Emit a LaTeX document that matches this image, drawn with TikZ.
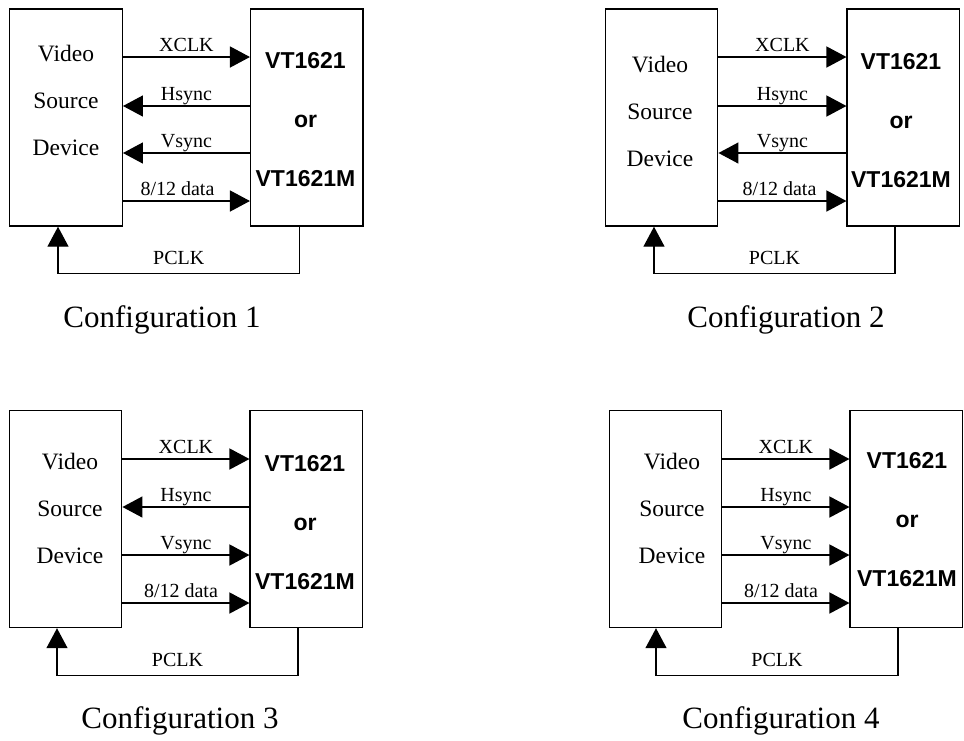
\documentclass[tikz,border=0pt]{standalone}
\usepackage{fontspec}
\setmainfont{Liberation Serif}
\setsansfont{Liberation Sans}
\usepackage{tikz}
\usetikzlibrary{arrows.meta,positioning}
\tikzstyle{block} = [rectangle, draw=black, line width=1.4pt, minimum width=112.5pt, minimum height=217pt, inner sep=0pt]
\tikzstyle{srctext} = [align=center, font=\fontsize{23.5}{47}\selectfont]
\tikzstyle{chiptext} = [align=center, font=\fontsize{23}{59}\selectfont\sffamily\bfseries]
\tikzstyle{sig} = [midway, anchor=base, yshift=5.8pt, inner sep=0pt, font=\fontsize{20}{24}\selectfont]
\tikzstyle{cfgtitle} = [anchor=base, inner sep=0pt, font=\fontsize{31}{36}\selectfont]
\tikzstyle{arrow} = [line width=1.4pt, -{Triangle[length=20pt,width=21pt]}]

\begin{document}
\begin{tikzpicture}[x=1pt,y=-1pt]
\useasboundingbox (0,0) rectangle (964,740);
% Configuration 1
\node (src1) [block] at (66,117.5) {};
\node (chip1) [block, right=127pt of src1] {};
\node (srctxt1) [srctext] at (66,100) {Video\\Source\\Device};
\node (chiptxt1) [chiptext] at (305.5,120) {VT1621\\or\\VT1621M};
\draw [arrow] ([yshift=60.5pt]src1.east) -- node (xclk1) [sig] {XCLK} ([yshift=60.5pt]chip1.west);
\draw [arrow] ([yshift=11.5pt]chip1.west) -- node (hsync1) [sig] {Hsync} ([yshift=11.5pt]src1.east);
\draw [arrow] ([yshift=-35.5pt]chip1.west) -- node (vsync1) [sig] {Vsync} ([yshift=-35.5pt]src1.east);
\draw [arrow] ([yshift=-83.5pt]src1.east) -- node (data1) [sig, xshift=-9pt] {8/12 data} ([yshift=-83.5pt]chip1.west);
\draw [arrow] ([xshift=-7.5pt]chip1.south) -- ++(0,47) -| node (pclk1) [sig, pos=0.25, yshift=3.2pt] {PCLK} ([xshift=-8pt]src1.south);
\node (cfg1) [cfgtitle] at (162,327) {Configuration 1};

% Configuration 2
\node (src2) [block] at (661.5,117.5) {};
\node (chip2) [block, right=128pt of src2] {};
\node (srctxt2) [srctext] at (660,111) {Video\\Source\\Device};
\node (chiptxt2) [chiptext] at (901,121) {VT1621\\or\\VT1621M};
\draw [arrow] ([yshift=60.5pt]src2.east) -- node (xclk2) [sig] {XCLK} ([yshift=60.5pt]chip2.west);
\draw [arrow] ([yshift=11.5pt]src2.east) -- node (hsync2) [sig] {Hsync} ([yshift=11.5pt]chip2.west);
\draw [arrow] ([yshift=-35.5pt]chip2.west) -- node (vsync2) [sig] {Vsync} ([yshift=-35.5pt]src2.east);
\draw [arrow] ([yshift=-83.5pt]src2.east) -- node (data2) [sig, xshift=-3pt] {8/12 data} ([yshift=-83.5pt]chip2.west);
\draw [arrow] ([xshift=-8.5pt]chip2.south) -- ++(0,47) -| node (pclk2) [sig, pos=0.25, yshift=3.2pt] {PCLK} ([xshift=-7.5pt]src2.south);
\node (cfg2) [cfgtitle] at (786,327) {Configuration 2};

% Configuration 3
\node (src3) [block] at (65.5,519) {};
\node (chip3) [block, right=127pt of src3] {};
\node (srctxt3) [srctext] at (70,508) {Video\\Source\\Device};
\node (chiptxt3) [chiptext] at (305,522.5) {VT1621\\or\\VT1621M};
\draw [arrow] ([yshift=60pt]src3.east) -- node (xclk3) [sig] {XCLK} ([yshift=60pt]chip3.west);
\draw [arrow] ([yshift=12pt]chip3.west) -- node (hsync3) [sig] {Hsync} ([yshift=12pt]src3.east);
\draw [arrow] ([yshift=-36pt]src3.east) -- node (vsync3) [sig] {Vsync} ([yshift=-36pt]chip3.west);
\draw [arrow] ([yshift=-84pt]src3.east) -- node (data3) [sig, xshift=-5pt] {8/12 data} ([yshift=-84pt]chip3.west);
\draw [arrow] ([xshift=-8.5pt]chip3.south) -- ++(0,47) -| node (pclk3) [sig, pos=0.25, yshift=3.2pt] {PCLK} ([xshift=-8.5pt]src3.south);
\node (cfg3) [cfgtitle] at (180,728) {Configuration 3};

% Configuration 4
\node (src4) [block] at (665.5,519) {};
\node (chip4) [block, right=127pt of src4] {};
\node (srctxt4) [srctext] at (672,508) {Video\\Source\\Device};
\node (chiptxt4) [chiptext] at (907,520) {VT1621\\or\\VT1621M};
\draw [arrow] ([yshift=60pt]src4.east) -- node (xclk4) [sig] {XCLK} ([yshift=60pt]chip4.west);
\draw [arrow] ([yshift=12pt]src4.east) -- node (hsync4) [sig] {Hsync} ([yshift=12pt]chip4.west);
\draw [arrow] ([yshift=-36pt]src4.east) -- node (vsync4) [sig] {Vsync} ([yshift=-36pt]chip4.west);
\draw [arrow] ([yshift=-84pt]src4.east) -- node (data4) [sig, xshift=-5pt] {8/12 data} ([yshift=-84pt]chip4.west);
\draw [arrow] ([xshift=-8.5pt]chip4.south) -- ++(0,47) -| node (pclk4) [sig, pos=0.25, yshift=3.2pt] {PCLK} ([xshift=-9.5pt]src4.south);
\node (cfg4) [cfgtitle] at (781,728) {Configuration 4};
\end{tikzpicture}
\end{document}
